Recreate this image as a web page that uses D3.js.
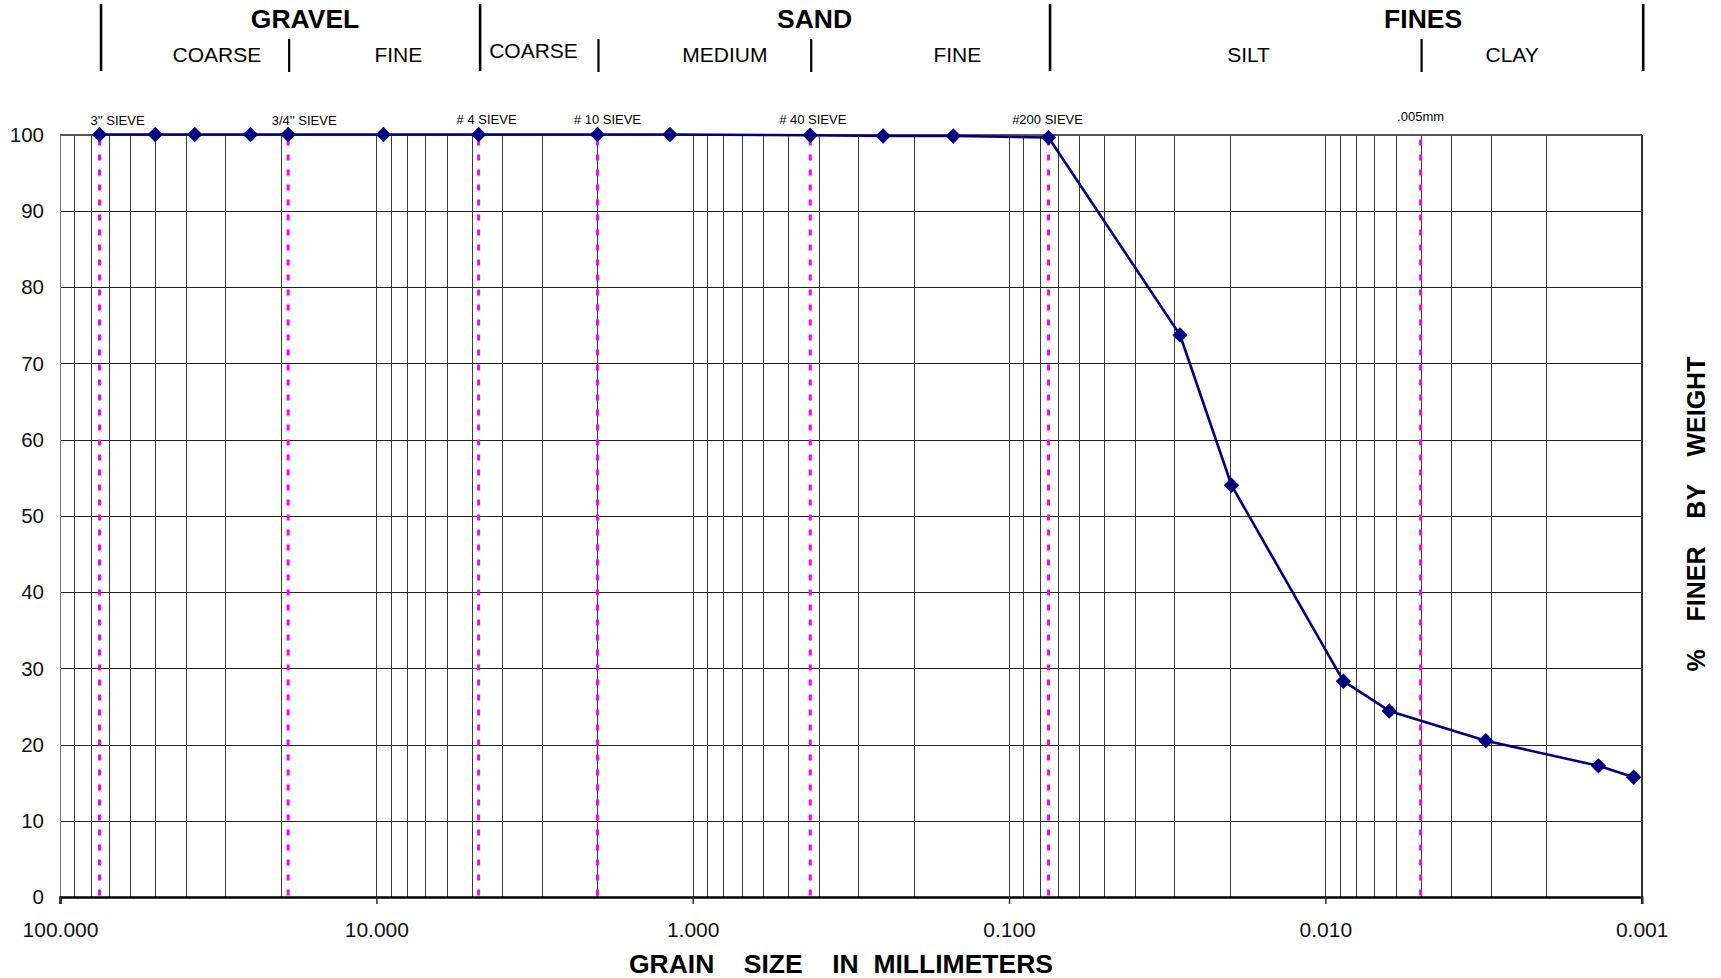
<!DOCTYPE html>
<html>
<head>
<meta charset="utf-8">
<title>Grain Size Distribution</title>
<script src="https://cdn.jsdelivr.net/npm/d3@7"></script>
<style>
  html, body { margin: 0; padding: 0; background: #fff; }
  svg { display: block; font-family: Arial, "Liberation Sans", sans-serif; }
  .pre { white-space: pre; }
</style>
</head>
<body>
<svg id="chart" width="1721" height="978"></svg>
<script>
// ---- Sieve analysis: opening size (mm) and percent passing ----
const sieveSizes   = [75, 50, 37.5, 25, 19, 9.5, 4.75, 2.0, 1.18, 0.425, 0.25, 0.15, 0.075];
const sievePassing = [100, 100, 100, 100, 100, 100, 100, 100, 100, 99.9, 99.8, 99.8, 99.6];

// ---- Hydrometer analysis: particle diameter (mm) and percent finer ----
const hydroSizes   = [0.0288, 0.0198, 0.00877, 0.00628, 0.00311, 0.00137, 0.00106];
const hydroPassing = [73.7, 54.0, 28.3, 24.4, 20.5, 17.2, 15.7];

// ---- Reference sieves / size limits (dashed markers) ----
const refSizes  = [75, 19, 4.75, 2.0, 0.425, 0.075, 0.005];
const refLabels = ["3'' SIEVE", "3/4'' SIEVE", "# 4 SIEVE", "# 10 SIEVE", "# 40 SIEVE", "#200 SIEVE", ".005mm"];

// ---- Axis ticks ----
const xTickValues = [100, 10, 1, 0.1, 0.01, 0.001];
const xTickLabels = ["100.000", "10.000", "1.000", "0.100", "0.010", "0.001"];
const yTickValues = [0, 10, 20, 30, 40, 50, 60, 70, 80, 90, 100];

// ---- Soil classification bands ----
const groupNames  = ["GRAVEL", "SAND", "FINES"];
const groupBounds = [[75, 4.75], [4.75, 0.075], [0.075, 0.001]];
const subNames    = ["COARSE", "FINE", "COARSE", "MEDIUM", "FINE", "SILT", "CLAY"];
const subBounds   = [[75, 19], [19, 4.75], [4.75, 2.0], [2.0, 0.425], [0.425, 0.075], [0.075, 0.005], [0.005, 0.001]];

// ---- Layout ----
const W = 1721, H = 978;
const plot = { left: 60, right: 1641.7, top: 134.5, bottom: 897 };
const groupNudge = [16, 51, 78];
const subNudge   = [23, 15, -4.5, 21, 28, 14, -19];
const subBaseline = [62, 62, 58, 62, 62, 62, 62];
const refNudge    = [18, 16, 8, 10, 2.5, -1, 0];
const refBaseline = [124.5, 124.5, 124, 124, 124, 124, 120.5];

const svg = d3.select("#chart");

const x = d3.scaleLog().domain([100, 0.001]).range([plot.left, plot.right]);
const y = d3.scaleLinear().domain([0, 100]).range([plot.bottom, plot.top]);

// log-midpoint of a size interval, in pixels
const midX = b => (x(b[0]) + x(b[1])) / 2;

// ---- Grid ----
const grid = svg.append("g").attr("shape-rendering", "crispEdges");
const minorValues = [];
for (let e = -3; e < 2; e++) {
  for (let m = 1; m <= 9; m++) minorValues.push(m * Math.pow(10, e));
}
grid.selectAll("line.v").data(minorValues).join("line")
  .attr("class", "v")
  .attr("x1", d => Math.round(x(d)) + 0.5).attr("x2", d => Math.round(x(d)) + 0.5)
  .attr("y1", plot.top).attr("y2", plot.bottom)
  .attr("stroke", "#3a3a3a").attr("stroke-width", 1);
grid.selectAll("line.h").data(yTickValues).join("line")
  .attr("class", "h")
  .attr("x1", plot.left).attr("x2", plot.right)
  .attr("y1", d => Math.round(y(d)) + 0.5).attr("y2", d => Math.round(y(d)) + 0.5)
  .attr("stroke", "#222").attr("stroke-width", 1);

// ---- Reference sieve markers ----
svg.append("g").selectAll("line").data(refSizes).join("line")
  .attr("x1", d => x(d)).attr("x2", d => x(d))
  .attr("y1", plot.top + 5).attr("y2", plot.bottom)
  .attr("stroke", "#ff00ff").attr("stroke-width", 3)
  .attr("stroke-dasharray", "6,9");

svg.append("g").selectAll("text").data(refLabels).join("text")
  .attr("x", (d, i) => x(refSizes[i]) + refNudge[i])
  .attr("y", (d, i) => refBaseline[i])
  .attr("text-anchor", "middle")
  .attr("font-size", 13)
  .attr("fill", "#000")
  .text(d => d);

// ---- Plot frame ----
const frame = svg.append("g").attr("shape-rendering", "crispEdges");
frame.append("line").attr("x1", plot.left).attr("x2", plot.right).attr("y1", plot.top).attr("y2", plot.top)
  .attr("stroke", "#555").attr("stroke-width", 2);
frame.append("line").attr("x1", plot.right).attr("x2", plot.right).attr("y1", plot.top).attr("y2", plot.bottom)
  .attr("stroke", "#333").attr("stroke-width", 2);
frame.append("line").attr("x1", plot.left).attr("x2", plot.left).attr("y1", plot.top).attr("y2", plot.bottom)
  .attr("stroke", "#777").attr("stroke-width", 1);

// ---- X axis ----
const xAxis = d3.axisBottom(x).tickValues(xTickValues)
  .tickFormat((d, i) => xTickLabels[i]).tickSize(7).tickPadding(18);
const gx = svg.append("g").attr("transform", `translate(0,${plot.bottom})`).call(xAxis);
gx.select(".domain").attr("stroke", "#000").attr("stroke-width", 2.5);
gx.selectAll(".tick line").attr("stroke", "#333").attr("stroke-width", 1.5);
gx.selectAll(".tick text").attr("font-size", 21).attr("font-family", "Arial, 'Liberation Sans', sans-serif").attr("fill", "#111");

// ---- Y axis labels ----
svg.append("g").selectAll("text").data(yTickValues).join("text")
  .attr("x", 44).attr("y", d => y(d))
  .attr("dy", "0.36em")
  .attr("text-anchor", "end")
  .attr("font-size", 20.5).attr("fill", "#111")
  .text(d => d);

// ---- Gradation curve ----
const points = sieveSizes.map((s, i) => ({ size: s, pct: sievePassing[i] }))
  .concat(hydroSizes.map((s, i) => ({ size: s, pct: hydroPassing[i] })));

svg.append("path").datum(points)
  .attr("fill", "none").attr("stroke", "#000080").attr("stroke-width", 2.6)
  .attr("stroke-linejoin", "round")
  .attr("d", d3.line().x(d => x(d.size)).y(d => y(d.pct)));

const diamond = d3.symbol(d3.symbolSquare, 118);
svg.append("g").selectAll("path").data(points).join("path")
  .attr("d", diamond)
  .attr("transform", d => `translate(${x(d.size)},${y(d.pct)}) rotate(45)`)
  .attr("fill", "#000080");

// ---- Classification header ----
const header = svg.append("g");
const majorEdges = [75, 4.75, 0.075, 0.001];
const minorEdges = [19, 2.0, 0.425, 0.005];
header.selectAll("line.major").data(majorEdges).join("line")
  .attr("class", "major")
  .attr("x1", d => x(d) + 1.5).attr("x2", d => x(d) + 1.5)
  .attr("y1", 4).attr("y2", 71)
  .attr("stroke", "#000").attr("stroke-width", 2.6);
header.selectAll("line.minor").data(minorEdges).join("line")
  .attr("class", "minor")
  .attr("x1", d => x(d) + 1).attr("x2", d => x(d) + 1)
  .attr("y1", 39).attr("y2", 72)
  .attr("stroke", "#000").attr("stroke-width", 2.2);

header.selectAll("text.group").data(groupNames).join("text")
  .attr("class", "group")
  .attr("x", (d, i) => midX(groupBounds[i]) + groupNudge[i])
  .attr("y", 28)
  .attr("text-anchor", "middle")
  .attr("font-size", 26.5).attr("font-weight", "bold").attr("fill", "#000")
  .text(d => d);

header.selectAll("text.sub").data(subNames).join("text")
  .attr("class", "sub")
  .attr("x", (d, i) => midX(subBounds[i]) + subNudge[i])
  .attr("y", (d, i) => subBaseline[i])
  .attr("text-anchor", "middle")
  .attr("font-size", 21).attr("fill", "#000")
  .text(d => d);

// ---- Axis titles ----
svg.append("text").attr("class", "pre")
  .attr("x", 841).attr("y", 973)
  .attr("text-anchor", "middle")
  .attr("font-size", 26.5).attr("font-weight", "bold").attr("fill", "#000")
  .text("GRAIN    SIZE    IN  MILLIMETERS");

svg.append("text").attr("class", "pre")
  .attr("transform", "translate(1705,514) rotate(-90)")
  .attr("text-anchor", "middle")
  .attr("font-size", 25).attr("font-weight", "bold").attr("fill", "#000")
  .text("%    FINER    BY    WEIGHT");
</script>
</body>
</html>
